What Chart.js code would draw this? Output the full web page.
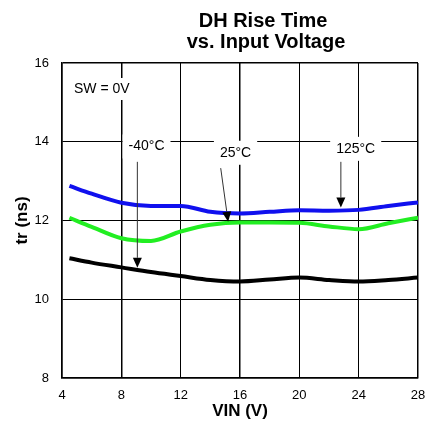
<!DOCTYPE html>
<html>
<head>
<meta charset="utf-8">
<script src="https://cdn.jsdelivr.net/npm/chart.js@4/dist/chart.umd.min.js"></script>
<style>
    body { margin: 0; background: #fff; }
    #wrap { width: 438px; height: 425px; }
</style>
</head>
<body>
<div id="wrap"><canvas id="riseChart"></canvas></div>
<script>
// values
const vin = [4.5, 6, 8, 10, 12, 14, 16, 18, 20, 22, 24, 26, 28];
const tr125 = [12.88, 12.68, 12.45, 12.37, 12.37, 12.22, 12.18, 12.22, 12.26, 12.25, 12.27, 12.37, 12.46];
const tr25 = [12.07, 11.84, 11.55, 11.48, 11.72, 11.89, 11.95, 11.95, 11.94, 11.85, 11.78, 11.93, 12.07];
const trMinus40 = [11.04, 10.93, 10.81, 10.69, 10.59, 10.49, 10.45, 10.50, 10.55, 10.49, 10.45, 10.49, 10.55];

const titleLines = ['DH Rise Time', 'vs. Input Voltage'];

// temperature callouts (data units)
const noteText = ['-40°C', '25°C', '125°C'];
const noteX = [9.7, 15.7, 23.8];
const noteY = [13.88, 13.72, 13.82];
const arrowFromX = [9.08, 14.7, 22.8];
const arrowFromY = [13.49, 13.33, 13.49];
const arrowToX = [9.08, 15.2, 22.8];
const arrowToY = [10.8, 11.97, 12.33];

const condText = 'SW = 0V';
const condX = 4.81;
const condY = 15.34;

function toPoints(ys) {
    return vin.map((v, i) => ({ x: v, y: ys[i] }));
}

function drawArrow(ctx, x1, y1, x2, y2) {
    const ang = Math.atan2(y2 - y1, x2 - x1);
    const len = 10, half = 4.5;
    const bx = x2 - Math.cos(ang) * len;
    const by = y2 - Math.sin(ang) * len;
    ctx.strokeStyle = '#333';
    ctx.lineWidth = 1;
    ctx.beginPath();
    ctx.moveTo(x1, y1);
    ctx.lineTo(bx, by);
    ctx.stroke();
    ctx.fillStyle = '#000';
    ctx.beginPath();
    ctx.moveTo(x2, y2);
    ctx.lineTo(bx - Math.sin(ang) * half, by + Math.cos(ang) * half);
    ctx.lineTo(bx + Math.sin(ang) * half, by - Math.cos(ang) * half);
    ctx.closePath();
    ctx.fill();
}

const notesPlugin = {
    id: 'notes',
    afterDatasetsDraw(chart) {
        const { ctx, scales: { x, y } } = chart;
        ctx.save();
        ctx.font = '14px Arial';
        ctx.textBaseline = 'middle';

        // condition label, left aligned
        const cw = ctx.measureText(condText).width;
        const cx = x.getPixelForValue(condX);
        const cy = y.getPixelForValue(condY);
        ctx.fillStyle = '#fff';
        ctx.fillRect(cx - 5, cy - 11, cw + 10, 22);
        ctx.fillStyle = '#000';
        ctx.textAlign = 'left';
        ctx.fillText(condText, cx, cy);

        ctx.textAlign = 'center';
        noteText.forEach((t, i) => {
            const px = x.getPixelForValue(noteX[i]);
            const py = y.getPixelForValue(noteY[i]);
            const w = ctx.measureText(t).width;
            ctx.fillStyle = '#fff';
            ctx.fillRect(px - w / 2 - 6, py - 12, w + 12, 24);
            ctx.fillStyle = '#000';
            ctx.fillText(t, px, py);
        });

        noteText.forEach((t, i) => {
            drawArrow(ctx,
                x.getPixelForValue(arrowFromX[i]), y.getPixelForValue(arrowFromY[i]),
                x.getPixelForValue(arrowToX[i]), y.getPixelForValue(arrowToY[i]));
        });
        ctx.restore();
    },
    afterDraw(chart) {
        const ctx = chart.ctx;
        ctx.save();
        ctx.font = 'bold 20px Arial';
        ctx.fillStyle = '#000';
        ctx.textAlign = 'center';
        ctx.textBaseline = 'alphabetic';
        ctx.fillText(titleLines[0], 263, 27);
        ctx.fillText(titleLines[1], 266, 47.5);
        ctx.restore();
    }
};

const edgeWidth = (ctx) => {
    const v = ctx.tick && ctx.tick.value;
    return (v === 16 || v === 28 || v === 8 || v === 4) ? 1.5 : 1;
};

new Chart(document.getElementById('riseChart'), {
    type: 'line',
    data: {
        datasets: [
            { label: '125°C', data: toPoints(tr125), borderColor: '#1010ee' },
            { label: '25°C', data: toPoints(tr25), borderColor: '#22ee22' },
            { label: '-40°C', data: toPoints(trMinus40), borderColor: '#000000' }
        ].map(d => Object.assign(d, {
            borderWidth: 4,
            pointRadius: 0,
            fill: false,
            cubicInterpolationMode: 'monotone'
        }))
    },
    options: {
        responsive: true,
        maintainAspectRatio: false,
        animation: false,
        layout: { padding: { top: 63, right: 20, left: 0, bottom: 0 } },
        plugins: {
            legend: { display: false },
            tooltip: { enabled: false }
        },
        scales: {
            x: {
                type: 'linear',
                min: 4,
                max: 28,
                afterFit: (s) => { s.height = 47; },
                ticks: { stepSize: 4, padding: 10, color: '#000', font: { family: 'Arial', size: 13 } },
                grid: { color: '#000', lineWidth: edgeWidth, drawTicks: false },
                border: { color: '#000', width: 1.5 },
                title: {
                    display: true,
                    text: 'VIN (V)',
                    color: '#000',
                    font: { family: 'Arial', size: 17, weight: 'bold' },
                    padding: { top: 0, bottom: 3 }
                }
            },
            y: {
                min: 8,
                max: 16,
                afterFit: (s) => { s.width = 62; },
                ticks: { stepSize: 2, padding: 13, color: '#000', font: { family: 'Arial', size: 13 } },
                grid: { color: '#000', lineWidth: edgeWidth, drawTicks: false },
                border: { color: '#000', width: 1.5 },
                title: {
                    display: true,
                    text: 'tr (ns)',
                    color: '#000',
                    font: { family: 'Arial', size: 17, weight: 'bold' },
                    padding: { top: 12, bottom: 0 }
                }
            }
        }
    },
    plugins: [notesPlugin]
});
</script>
</body>
</html>
